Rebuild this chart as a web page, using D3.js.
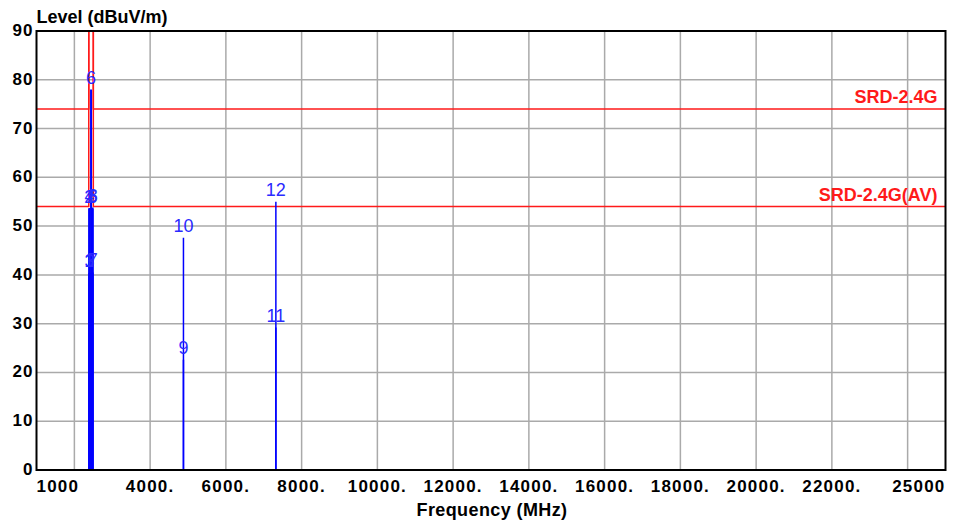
<!DOCTYPE html>
<html>
<head>
<meta charset="utf-8">
<script src="https://cdn.jsdelivr.net/npm/d3@7"></script>
<style>
  body { margin: 0; background: #fff; }
  text { font-family: "Liberation Sans", Arial, sans-serif; }
</style>
</head>
<body>
<div id="chart"></div>
<script>
// x axis (MHz)
const freqTicks = [1000, 4000, 6000, 8000, 10000, 12000, 14000, 16000, 18000, 20000, 22000, 25000];
const freqTickLabels = ["1000", "4000.", "6000.", "8000.", "10000.", "12000.", "14000.", "16000.", "18000.", "20000.", "22000.", "25000"];
const freqGrid = [2000, 4000, 6000, 8000, 10000, 12000, 14000, 16000, 18000, 20000, 22000, 24000];

// y axis (dBuV/m)
const levelTicks = [0, 10, 20, 30, 40, 50, 60, 70, 80, 90];

// markers
const markerIds = [1, 2, 3, 4, 5, 6, 7, 8, 9, 10, 11, 12];
const markerFreqs = [2390, 2390, 2400, 2400, 2480, 2440, 2483.5, 2483.5, 4880, 4880, 7320, 7320];
const markerLevels = [40.3, 53.6, 40.4, 53.7, 53.5, 78.0, 40.5, 53.8, 22.6, 47.6, 29.2, 55.0];

// limit lines
const limitNames = ["SRD-2.4G", "SRD-2.4G(AV)"];
const limitLevels = [74, 54];
const bandEdges = [2380, 2500];

const margin = {top: 31, right: 18.5, bottom: 52, left: 36.5},
    width = 964 - margin.left - margin.right,
    height = 522 - margin.top - margin.bottom;

const svg = d3.select("#chart")
    .append("svg")
    .attr("width", 964)
    .attr("height", 522)
    .append("g")
    .attr("transform", `translate(${margin.left},${margin.top})`);

const x = d3.scaleLinear().domain([1000, 25000]).range([0, width]);
const y = d3.scaleLinear().domain([0, 90]).range([height, 0]);

svg.append("defs").append("clipPath").attr("id", "clip")
    .append("rect").attr("width", width).attr("height", height);

// grid
svg.append("g")
    .selectAll("line")
    .data(freqGrid)
    .enter().append("line")
    .attr("x1", d => x(d)).attr("x2", d => x(d))
    .attr("y1", 0).attr("y2", height)
    .attr("stroke", "#aaaaaa").attr("stroke-width", 1.5);

svg.append("g")
    .selectAll("line")
    .data(levelTicks.slice(1, -1))
    .enter().append("line")
    .attr("x1", 0).attr("x2", width)
    .attr("y1", d => y(d)).attr("y2", d => y(d))
    .attr("stroke", "#aaaaaa").attr("stroke-width", 1.5);

// limit lines, with the gap over the 2.4G band
const limitLine = d3.line().x(d => x(d[0])).y(d => y(d[1]));
const plot = svg.append("g").attr("clip-path", "url(#clip)");

limitLevels.forEach((lv, i) => {
    const pts = [[1000, lv], [bandEdges[0], lv], [bandEdges[0], 120], [bandEdges[1], 120], [bandEdges[1], lv], [25000, lv]];
    plot.append("path")
        .attr("d", limitLine(pts))
        .attr("fill", "none")
        .attr("stroke", "#ff1a1a")
        .attr("stroke-width", 1.5);

    svg.append("text")
        .attr("x", width - 8)
        .attr("y", y(lv) - 6)
        .attr("text-anchor", "end")
        .style("font-size", "18px")
        .style("font-weight", "bold")
        .style("fill", "#ff1a1a")
        .text(limitNames[i]);
});

// marker stems
const markers = markerIds.map((id, i) => ({id: id, f: markerFreqs[i], v: markerLevels[i]}));

plot.selectAll("line.stem")
    .data(markers)
    .enter().append("line")
    .attr("class", "stem")
    .attr("x1", d => x(d.f)).attr("x2", d => x(d.f))
    .attr("y1", height).attr("y2", d => y(d.v))
    .attr("stroke", "#0000ff")
    .attr("stroke-width", d => d.f < 3000 ? 2 : 1.5);

svg.selectAll("text.mk")
    .data(markers)
    .enter().append("text")
    .attr("class", "mk")
    .attr("x", d => x(d.f))
    .attr("y", d => y(d.v) - 6)
    .attr("text-anchor", "middle")
    .style("font-size", "18px")
    .style("fill", "#2a2aff")
    .text(d => d.id);

// frame
svg.append("rect")
    .attr("width", width).attr("height", height)
    .attr("fill", "none").attr("stroke", "#000").attr("stroke-width", 2);

// tick labels
svg.append("g")
    .selectAll("text")
    .data(levelTicks)
    .enter().append("text")
    .attr("x", -3)
    .attr("y", d => y(d) + 5)
    .attr("text-anchor", "end")
    .style("font-size", "17px")
    .style("font-weight", "bold")
    .style("letter-spacing", "1px")
    .text(d => d);

svg.append("g")
    .selectAll("text")
    .data(freqTicks)
    .enter().append("text")
    .attr("x", d => x(d))
    .attr("y", height + 22)
    .attr("text-anchor", (d, i) => i === 0 ? "start" : (i === freqTicks.length - 1 ? "end" : "middle"))
    .style("font-size", "17px")
    .style("font-weight", "bold")
    .style("letter-spacing", "1.2px")
    .text((d, i) => freqTickLabels[i]);

// axis titles
svg.append("text")
    .attr("x", 0)
    .attr("y", -8)
    .style("font-size", "18px")
    .style("font-weight", "bold")
    .text("Level (dBuV/m)");

svg.append("text")
    .attr("x", x(13000) + 1)
    .attr("y", height + 46)
    .attr("text-anchor", "middle")
    .style("font-size", "18px")
    .style("font-weight", "bold")
    .style("letter-spacing", "0.4px")
    .text("Frequency (MHz)");
</script>
</body>
</html>
